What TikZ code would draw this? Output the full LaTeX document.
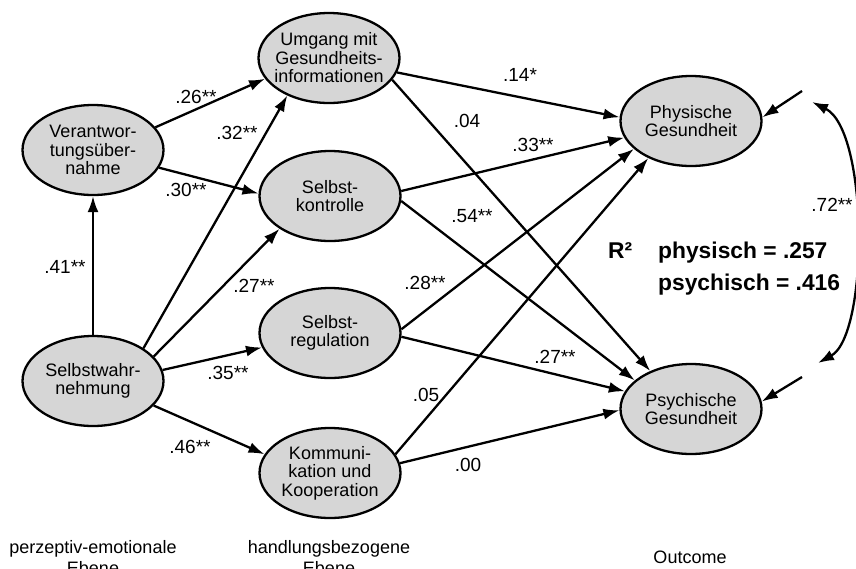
\documentclass[tikz,border=0pt]{standalone}
\usepackage{fontspec}
\setmainfont{Liberation Sans}
\usepackage{tikz}
\usetikzlibrary{arrows.meta,shapes.geometric}
\definecolor{konstruktgrau}{gray}{0.84}
\tikzset{
>={Latex[length=16pt,width=11pt]},
  konstrukt/.style={
    ellipse,
    fill=konstruktgrau,
    draw=black, line width=2.3pt,
    minimum width=141pt,
    minimum height=90pt,
    inner xsep=-7pt, inner ysep=0pt,
    align=center,
    font=\fontsize{18}{18.5}\selectfont},
  pfad/.style={draw, line width=2.3pt, ->},
  koeff/.style={font=\fontsize{19}{19}\selectfont, inner sep=0pt},
  ebene/.style={font=\fontsize{18}{21}\selectfont, align=center, inner sep=0pt},
  rquadrat/.style={font=\fontsize{22.8}{31}\selectfont\bfseries, inner sep=0pt},
}

\begin{document}
\begin{tikzpicture}[x=1pt, y=-1pt]
    \useasboundingbox (0,0) rectangle (856,568);
		% Konstrukte
		\node[konstrukt] (verantwortung) at (93,150) {Verantwor-\\tungsüber-\\nahme};
		\node[konstrukt] (wahrnehmung) at (93,381) {Selbstwahr-\\nehmung};
		\node[konstrukt] (umgang) at (329,58) {Umgang mit\\Gesundheits-\\informationen};
		\node[konstrukt] (kontrolle) at (330,196) {Selbst-\\kontrolle};
		\node[konstrukt] (regulation) at (330,333) {Selbst-\\regulation};
		\node[konstrukt] (kommunikation) at (330,473) {Kommuni-\\kation und\\Kooperation};
		\node[konstrukt] (physisch) at (691,121) {Physische\\Gesundheit};
		\node[konstrukt] (psychisch) at (691,409) {Psychische\\Gesundheit};
		
		% Pfade
		\path[pfad] (wahrnehmung) -- (verantwortung);
		\path[pfad] (verantwortung.20) -- (umgang.198);
		\path[pfad] (verantwortung.345) -- (kontrolle.178);
		\path[pfad] (wahrnehmung.33) -- (umgang.222);
		\path[pfad] (wahrnehmung.22) -- (kontrolle.213);
		\path[pfad] (wahrnehmung.9) -- (regulation.192);
		\path[pfad] (wahrnehmung.338) -- (kommunikation.164);
		\path[pfad] (umgang.348) -- (physisch.177);
		\path[pfad] (umgang.341) -- (psychisch.137);
		\path[pfad] (kontrolle.4) -- (physisch.194);
		\path[pfad] (kontrolle.356) -- (psychisch.153);
		\path[pfad] (regulation.3) -- (physisch.206);
		\path[pfad] (regulation.357) -- (psychisch.165);
		\path[pfad] (kommunikation.16) -- (physisch.221);
		\path[pfad] (kommunikation.8) -- (psychisch.181);
		
		% Residuen und Kovarianz
		\coordinate (fehlerphys) at (802,91);
		\coordinate (fehlerpsych) at (802,377);
		\path[pfad] (fehlerphys) -- (physisch.3);
		\path[pfad] (fehlerpsych) -- (psychisch.6);
		\coordinate (kovoben) at (812,102);
		\coordinate (kovunten) at (818,363);
		\draw[line width=2.3pt, <->] (kovoben) .. controls (869,130) and (869,335) .. (kovunten);
		
		% Koeffizienten
		\node[koeff] (k26) at (196,97) {.26**};
		\node[koeff] (k32) at (237,133) {.32**};
		\node[koeff] (k30) at (186,190) {.30**};
		\node[koeff] (k41) at (65,267) {.41**};
		\node[koeff] (k27a) at (254,286) {.27**};
		\node[koeff] (k35) at (228,373) {.35**};
		\node[koeff] (k46) at (190,447) {.46**};
		\node[koeff] (k28) at (425,283) {.28**};
		\node[koeff] (k05) at (426,395) {.05};
		\node[koeff] (k14) at (520,75) {.14*};
		\node[koeff] (k04) at (467,121) {.04};
		\node[koeff] (k33) at (533,145) {.33**};
		\node[koeff] (k54) at (472,216) {.54**};
		\node[koeff] (k27b) at (555,357) {.27**};
		\node[koeff] (k00) at (468,465) {.00};
		\node[koeff] (k72) at (832,205) {.72**};
		
		% R-Quadrat
		\node[rquadrat, anchor=base west] (rq) at (608,258) {R²};
		\node[rquadrat, anchor=base west] (rphys) at (658,258) {physisch = .257};
		\node[rquadrat, anchor=base west] (rpsych) at (658,290) {psychisch = .416};
		
		% Ebenen
		\node[ebene] (ebeneperz) at (93,558) {perzeptiv-emotionale\\Ebene};
		\node[ebene] (ebenehandl) at (329,558) {handlungsbezogene\\Ebene};
		\node[ebene] (ebeneout) at (690,557) {Outcome};
	\end{tikzpicture}
\end{document}
